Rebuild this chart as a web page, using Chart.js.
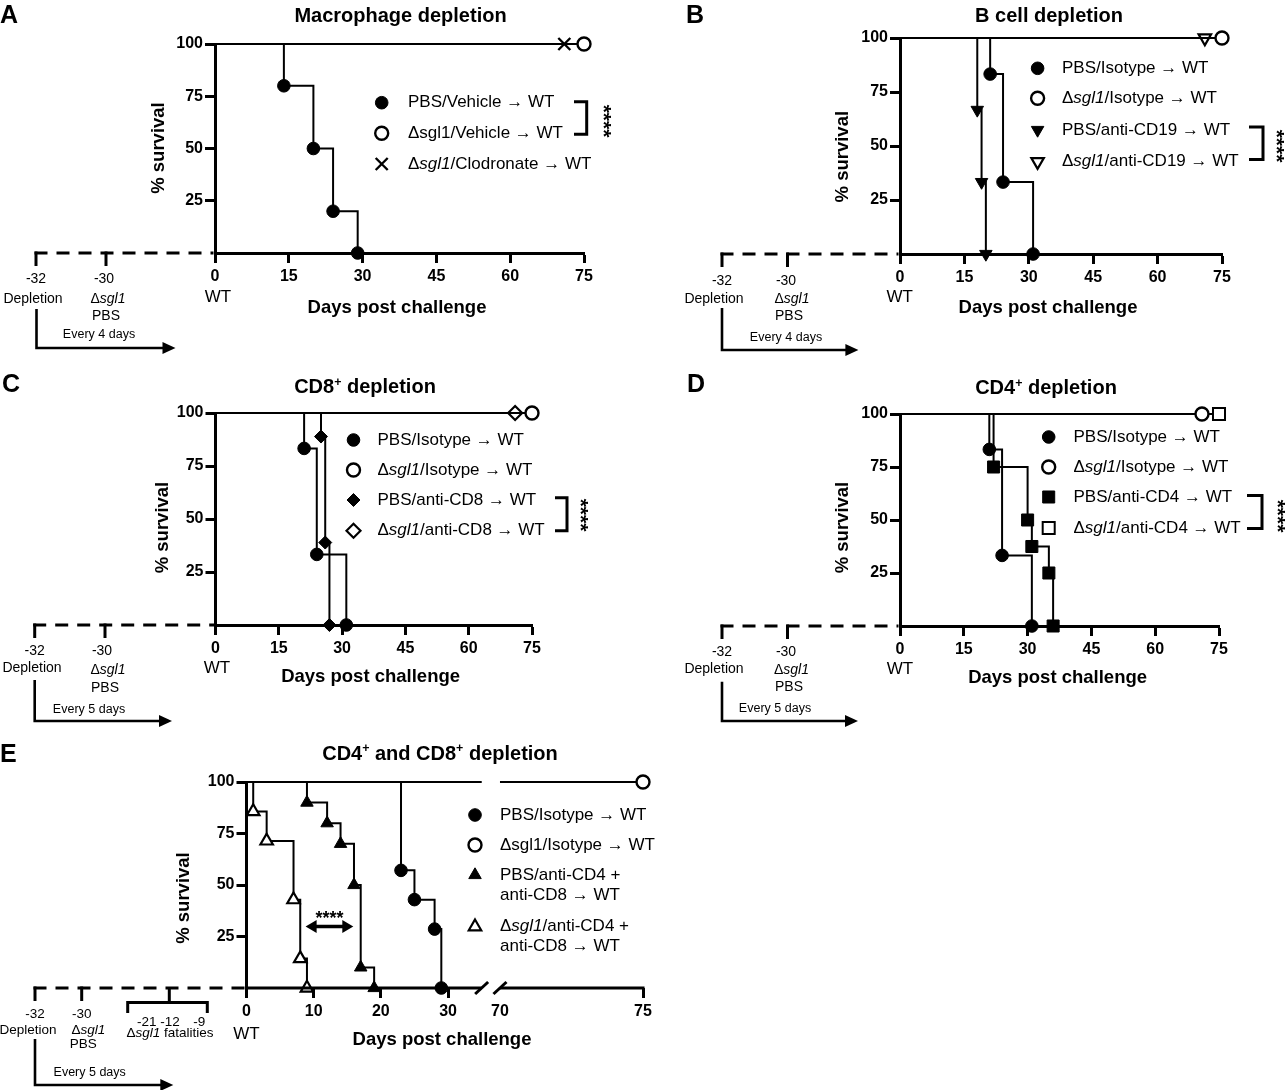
<!DOCTYPE html>
<html><head><meta charset="utf-8">
<script src="https://cdn.jsdelivr.net/npm/chart.js@4/dist/chart.umd.min.js"></script>
<style>
html,body{margin:0;padding:0;background:#fff;}
#wrap{position:relative;width:1286px;height:1090px;overflow:hidden;background:#fff;}
#wrap canvas{position:absolute;left:0;top:0;}
</style></head><body>
<div id="wrap">
<canvas id="cA" width="1286" height="1090"></canvas>
<canvas id="cB" width="1286" height="1090"></canvas>
<canvas id="cC" width="1286" height="1090"></canvas>
<canvas id="cD" width="1286" height="1090"></canvas>
<canvas id="cE" width="1286" height="1090"></canvas>
</div>
<script>
// ================= DATA =================
const xTicksMain = [0, 15, 30, 45, 60, 75];
const xTicksE = [0, 10, 20, 30, 70, 75];
const yTicks = [25, 50, 75, 100];
const xAxisTitle = 'Days post challenge';
const yAxisTitle = '% survival';

// Panel A - Macrophage depletion
const A_pbsVeh_days = [0, 14, 20, 24, 29];
const A_pbsVeh_surv = [100, 80, 50, 20, 0];
const A_sglVeh_days = [0, 75];
const A_sglVeh_surv = [100, 100];
const A_sglClod_days = [0, 71];
const A_sglClod_surv = [100, 100];

// Panel B - B cell depletion
const B_pbsIso_days = [0, 21, 24, 31];
const B_pbsIso_surv = [100, 83.3, 33.3, 0];
const B_sglIso_days = [0, 75];
const B_sglIso_surv = [100, 100];
const B_pbsCD19_days = [0, 18, 19, 20];
const B_pbsCD19_surv = [100, 66.7, 33.3, 0];
const B_sglCD19_days = [0, 71];
const B_sglCD19_surv = [100, 100];

// Panel C - CD8+ depletion
const C_pbsIso_days = [0, 21, 24, 31];
const C_pbsIso_surv = [100, 83.3, 33.3, 0];
const C_sglIso_days = [0, 75];
const C_sglIso_surv = [100, 100];
const C_pbsCD8_days = [0, 25, 26, 27];
const C_pbsCD8_surv = [100, 88.9, 38.9, 0];
const C_sglCD8_days = [0, 71];
const C_sglCD8_surv = [100, 100];

// Panel D - CD4+ depletion
const D_pbsIso_days = [0, 21, 24, 31];
const D_pbsIso_surv = [100, 83.3, 33.3, 0];
const D_sglIso_days = [0, 71];
const D_sglIso_surv = [100, 100];
const D_pbsCD4_days = [0, 22, 30, 31, 35, 36];
const D_pbsCD4_surv = [100, 75, 50, 37.5, 25, 0];
const D_sglCD4_days = [0, 75];
const D_sglCD4_surv = [100, 100];

// Panel E - CD4+ and CD8+ depletion
const E_pbsIso_days = [0, 23, 25, 28, 29];
const E_pbsIso_surv = [100, 57.1, 42.9, 28.6, 0];
const E_sglIso_days = [0, 75];
const E_sglIso_surv = [100, 100];
const E_pbsCD_days = [0, 9, 12, 14, 16, 17, 19];
const E_pbsCD_surv = [100, 90, 80, 70, 50, 10, 0];
const E_sglCD_days = [0, 1, 3, 7, 8, 9];
const E_sglCD_surv = [100, 85.7, 71.4, 42.9, 14.3, 0];
const E_axisBreak = [35, 70];

// Timeline (schematic) labels
const tlDays = ['-32', '-30'];
const tlEventsMain = ['Depletion', 'Δ_sgl1_', 'PBS'];
const tlFatalDays = ['-21', '-12', '-9'];
const tlFatalLabel = 'Δ_sgl1_ fatalities';

// ================= STYLES =================
const FONT = '"Liberation Sans", Arial, Helvetica, sans-serif';
const MK = {
  fc:  {style:'circle', r:6.3, bg:'#000', bw:1},
  oc:  {style:'circle', r:6.5, bg:'#fff', bw:2.4},
  x:   {style:'crossRot', r:8.5, bg:'#000', bw:2.4},
  ftd: {style:'triangle', rot:180, r:7.2, bg:'#000', bw:1},
  otd: {style:'triangle', rot:180, r:7.2, bg:'#fff', bw:2.2},
  fd:  {style:'rectRot', r:6.5, bg:'#000', bw:1},
  od:  {style:'rectRot', r:7, bg:'#fff', bw:2.2},
  fs:  {style:'rect', r:8.5, bg:'#000', bw:1},
  os:  {style:'rect', r:8.5, bg:'#fff', bw:2},
  ftu: {style:'triangle', r:7.2, bg:'#000', bw:1},
  otu: {style:'triangle', r:7.2, bg:'#fff', bw:2.2}
};

const panels = [
  { canvas:'cA', letter:'A', title:'Macrophage depletion', xTicks:xTicksMain, broken:false,
    series:[
      {label:'PBS/Vehicle → WT', days:A_pbsVeh_days, surv:A_pbsVeh_surv, mk:'fc'},
      {label:'Δsgl1/Vehicle → WT', days:A_sglVeh_days, surv:A_sglVeh_surv, mk:'oc'},
      {label:'Δ_sgl1_/Clodronate → WT', days:A_sglClod_days, surv:A_sglClod_surv, mk:'x'}],
    every:'Every 4 days',
    L:{x0:215, x75:584, y100:44, y0:253,
       letter:[0,23], title:[400.5,21.5], xTitle:[397,313], yTitle:[159,148], wt:[218,301.5],
       legend:{mx:381.7, tx:408, rows:[[102.7],[133.3],[164]]},
       bracket:{x:586.7, y1:101.7, y2:134.3, arm:12.7}, stars:[606.7,121],
       tl:{xs:[36,106], dayLab:[[36,282.5],[104,282.5]], evLab:[[33,303],[108,302.5],[106,319.5]],
           every:[99,337.5], arrow:{x:36.5,y1:309,y2:348,x2:175.5}, fs:14}}},
  { canvas:'cB', letter:'B', title:'B cell depletion', xTicks:xTicksMain, broken:false,
    series:[
      {label:'PBS/Isotype → WT', days:B_pbsIso_days, surv:B_pbsIso_surv, mk:'fc'},
      {label:'Δ_sgl1_/Isotype → WT', days:B_sglIso_days, surv:B_sglIso_surv, mk:'oc'},
      {label:'PBS/anti-CD19 → WT', days:B_pbsCD19_days, surv:B_pbsCD19_surv, mk:'ftd'},
      {label:'Δ_sgl1_/anti-CD19 → WT', days:B_sglCD19_days, surv:B_sglCD19_surv, mk:'otd'}],
    every:'Every 4 days',
    L:{x0:900, x75:1222, y100:38, y0:254,
       letter:[686,23], title:[1049,21.5], xTitle:[1048,313], yTitle:[843,156.7], wt:[899.6,301.7],
       legend:{mx:1037.6, tx:1062, rows:[[68.3],[98.3],[130],[161.7]]},
       bracket:{x:1263, y1:127, y2:159.5, arm:14}, stars:[1280,146],
       tl:{xs:[722,787.5], dayLab:[[722,285],[786,285]], evLab:[[714,302.5],[792,303],[789,320]],
           every:[786,340.5], arrow:{x:722,y1:308,y2:350,x2:858.4}, fs:14}}},
  { canvas:'cC', letter:'C', title:'CD8^+^ depletion', xTicks:xTicksMain, broken:false,
    series:[
      {label:'PBS/Isotype → WT', days:C_pbsIso_days, surv:C_pbsIso_surv, mk:'fc'},
      {label:'Δ_sgl1_/Isotype → WT', days:C_sglIso_days, surv:C_sglIso_surv, mk:'oc'},
      {label:'PBS/anti-CD8 → WT', days:C_pbsCD8_days, surv:C_pbsCD8_surv, mk:'fd'},
      {label:'Δ_sgl1_/anti-CD8 → WT', days:C_sglCD8_days, surv:C_sglCD8_surv, mk:'od'}],
    every:'Every 5 days',
    L:{x0:215.5, x75:532, y100:413, y0:625,
       letter:[2,392], title:[365,393], xTitle:[370.6,682], yTitle:[163,527.5], wt:[217,672.7],
       legend:{mx:353.5, tx:377.5, rows:[[440],[470],[500],[530.7]]},
       bracket:{x:567, y1:497.7, y2:530.7, arm:12}, stars:[583.7,515],
       tl:{xs:[34.7,105], dayLab:[[34.7,655],[102,655]], evLab:[[32,672.3],[108,674.3],[105,691.7]],
           every:[89,712.7], arrow:{x:34.7,y1:680,y2:721,x2:172}, fs:14}}},
  { canvas:'cD', letter:'D', title:'CD4^+^ depletion', xTicks:xTicksMain, broken:false,
    series:[
      {label:'PBS/Isotype → WT', days:D_pbsIso_days, surv:D_pbsIso_surv, mk:'fc'},
      {label:'Δ_sgl1_/Isotype → WT', days:D_sglIso_days, surv:D_sglIso_surv, mk:'oc'},
      {label:'PBS/anti-CD4 → WT', days:D_pbsCD4_days, surv:D_pbsCD4_surv, mk:'fs'},
      {label:'Δ_sgl1_/anti-CD4 → WT', days:D_sglCD4_days, surv:D_sglCD4_surv, mk:'os'}],
    every:'Every 5 days',
    L:{x0:900, x75:1219, y100:414, y0:626,
       letter:[687,392], title:[1046,394], xTitle:[1057.6,683], yTitle:[843,527.5], wt:[900,674],
       legend:{mx:1048.7, tx:1073.5, rows:[[437],[467],[497],[528]]},
       bracket:{x:1262, y1:495.5, y2:528.5, arm:15}, stars:[1280.5,516],
       tl:{xs:[722,787.5], dayLab:[[722,656],[786,656]], evLab:[[714,673.3],[791.5,674.3],[789,691]],
           every:[775,712.3], arrow:{x:722,y1:681.7,y2:721,x2:858}, fs:14}}},
  { canvas:'cE', letter:'E', title:'CD4^+^ and CD8^+^ depletion', xTicks:xTicksE, broken:true,
    series:[
      {label:'PBS/Isotype → WT', days:E_pbsIso_days, surv:E_pbsIso_surv, mk:'fc'},
      {label:'Δsgl1/Isotype → WT', days:E_sglIso_days, surv:E_sglIso_surv, mk:'oc'},
      {label:'PBS/anti-CD4 +\nanti-CD8 → WT', days:E_pbsCD_days, surv:E_pbsCD_surv, mk:'ftu'},
      {label:'Δ_sgl1_/anti-CD4 +\nanti-CD8 → WT', days:E_sglCD_days, surv:E_sglCD_surv, mk:'otu'}],
    every:'Every 5 days',
    L:{x0:246.5, x75:643, y100:782, y0:988,
       letter:[0,762], title:[440,759.5], xTitle:[442,1045], yTitle:[184,898], wt:[246.5,1039],
       legend:{mx:475, tx:500, rows:[[815],[845],[875,895],[926.7,946.7]]},
       dbl:{d1:8.8, d2:15.9, s:29.8, starsY:924},
       tl:{xs:[35,81.7], dayLab:[[35,1017.5],[81.7,1017.5]], evLab:[[28,1034],[88.3,1034],[83.3,1048]],
           fatal:{x1:127.7, x2:207.3, xc:169.3, y:1002.5, yEnd:1013, labs:[[146.7,1026],[170,1026],[199.3,1026]], lab:[170,1037]},
           every:[89.7,1076], arrow:{x:35,y1:1039,y2:1085,x2:173.3}, fs:13.5}}}
];

// ================= HELPERS =================
function fnt(size, weight, style) {
  return (style || 'normal') + ' ' + (weight || 'normal') + ' ' + size + 'px ' + FONT;
}
function parseRich(str) {
  const segs = []; let cur = '', it = false, sup = false;
  for (const ch of str) {
    if (ch === '_' || ch === '^') {
      if (cur) segs.push({t:cur, it, sup});
      cur = '';
      if (ch === '_') it = !it; else sup = !sup;
    } else cur += ch;
  }
  if (cur) segs.push({t:cur, it, sup});
  return segs;
}
function rich(ctx, str, x, y, size, weight, align, baseline) {
  const segs = parseRich(str);
  let total = 0;
  segs.forEach(s => {
    ctx.font = fnt(s.sup ? size * 0.62 : size, weight, s.it ? 'italic' : 'normal');
    s.w = ctx.measureText(s.t).width; total += s.w;
  });
  let cx = align === 'center' ? x - total / 2 : (align === 'right' ? x - total : x);
  ctx.textAlign = 'left';
  ctx.textBaseline = baseline || 'alphabetic';
  segs.forEach(s => {
    ctx.font = fnt(s.sup ? size * 0.62 : size, weight, s.it ? 'italic' : 'normal');
    ctx.fillText(s.t, cx, s.sup ? y - size * 0.36 : y);
    cx += s.w;
  });
}
function drawMarker(ctx, mk, x, y) {
  ctx.save();
  ctx.fillStyle = mk.bg; ctx.strokeStyle = '#000'; ctx.lineWidth = mk.bw;
  if (Chart.helpers && Chart.helpers.drawPoint) {
    Chart.helpers.drawPoint(ctx, {pointStyle: mk.style, rotation: mk.rot || 0, radius: mk.r, borderWidth: mk.bw}, x, y);
  } else {
    ctx.beginPath(); ctx.arc(x, y, mk.r, 0, Math.PI * 2); ctx.fill(); ctx.stroke();
  }
  ctx.restore();
}
function line(ctx, pts, w) {
  ctx.lineWidth = w; ctx.beginPath();
  pts.forEach((p, i) => i ? ctx.lineTo(p[0], p[1]) : ctx.moveTo(p[0], p[1]));
  ctx.stroke();
}
function arrowHead(ctx, x, y, dir, len, half) {
  ctx.beginPath();
  ctx.moveTo(x, y); ctx.lineTo(x - dir * len, y - half); ctx.lineTo(x - dir * len, y + half);
  ctx.closePath(); ctx.fill();
}

// ================= BROKEN AXIS SCALE (panel E) =================
const E_SEG_FRAC = [0.593, 0.6393];
class BrokenLinearScale extends Chart.LinearScale {
  getPixelForValue(v) {
    if (v === null || v === undefined || isNaN(v)) return NaN;
    const b1 = E_axisBreak[0], b2 = E_axisBreak[1], f1 = E_SEG_FRAC[0], f2 = E_SEG_FRAC[1];
    const mn = this.min, mx = this.max;
    let f;
    if (v <= b1) f = (v - mn) / (b1 - mn) * f1;
    else if (v >= b2) f = f2 + (v - b2) / (mx - b2) * (1 - f2);
    else f = f1 + (v - b1) / (b2 - b1) * (f2 - f1);
    return this.getPixelForDecimal(f);
  }
  getValueForPixel(p) {
    const f = this.getDecimalForPixel(p);
    const b1 = E_axisBreak[0], b2 = E_axisBreak[1], f1 = E_SEG_FRAC[0], f2 = E_SEG_FRAC[1];
    const mn = this.min, mx = this.max;
    if (f <= f1) return mn + f / f1 * (b1 - mn);
    if (f >= f2) return b2 + (f - f2) / (1 - f2) * (mx - b2);
    return b1 + (f - f1) / (f2 - f1) * (b2 - b1);
  }
}
BrokenLinearScale.id = 'brokenLinear';
BrokenLinearScale.defaults = Chart.LinearScale.defaults;
Chart.register(BrokenLinearScale);

// ================= DECORATION =================
function drawDecor(chart, P) {
  const L = P.L, ctx = chart.ctx, ca = chart.chartArea;
  const xs = chart.scales.x, ys = chart.scales.y;
  ctx.save();
  ctx.fillStyle = '#000'; ctx.strokeStyle = '#000'; ctx.lineCap = 'butt';

  rich(ctx, P.letter, L.letter[0], L.letter[1], 25, 'bold', 'left');
  rich(ctx, P.title, L.title[0], L.title[1], 20, 'bold', 'center');
  rich(ctx, xAxisTitle, L.xTitle[0], L.xTitle[1], 18.5, 'bold', 'center');
  ctx.save(); ctx.translate(L.yTitle[0], L.yTitle[1]); ctx.rotate(-Math.PI / 2);
  rich(ctx, yAxisTitle, 0, 0, 18.5, 'bold', 'center', 'middle'); ctx.restore();
  rich(ctx, 'WT', L.wt[0], L.wt[1], 17, 'normal', 'center');

  // legend
  P.series.forEach((s, i) => {
    const rows = L.legend.rows[i];
    drawMarker(ctx, MK[s.mk], L.legend.mx, rows[0]);
    s.label.split('\n').forEach((ln, j) => rich(ctx, ln, L.legend.tx, rows[j], 17, 'normal', 'left', 'middle'));
  });

  // significance bracket
  if (L.bracket) {
    const b = L.bracket;
    line(ctx, [[b.x - b.arm, b.y1], [b.x, b.y1], [b.x, b.y2], [b.x - b.arm, b.y2]], 3);
    ctx.save(); ctx.translate(L.stars[0], L.stars[1]); ctx.rotate(Math.PI / 2);
    ctx.font = fnt(21, 'bold'); ctx.textAlign = 'center'; ctx.textBaseline = 'alphabetic';
    const m = ctx.measureText('****');
    const off = ((m.actualBoundingBoxAscent || 15) - (m.actualBoundingBoxDescent || 0)) / 2;
    ctx.fillText('****', 0, off); ctx.restore();
  }
  if (L.dbl) {
    const x1 = xs.getPixelForValue(L.dbl.d1), x2 = xs.getPixelForValue(L.dbl.d2), y = ys.getPixelForValue(L.dbl.s);
    line(ctx, [[x1 + 8, y], [x2 - 8, y]], 3.5);
    arrowHead(ctx, x1, y, -1, 11, 6.5); arrowHead(ctx, x2, y, 1, 11, 6.5);
    ctx.font = fnt(18, 'bold'); ctx.textAlign = 'center'; ctx.textBaseline = 'alphabetic';
    ctx.fillText('****', (x1 + x2) / 2, L.dbl.starsY);
  }

  // broken x axis
  if (P.broken) {
    const y0 = ca.bottom;
    const pA = xs.getPixelForValue(0), pB = xs.getPixelForValue(E_axisBreak[0]);
    const pC = xs.getPixelForValue(E_axisBreak[1]), pD = xs.getPixelForValue(75);
    line(ctx, [[pA - 1.5, y0], [pB, y0]], 3);
    line(ctx, [[pC, y0], [pD + 1.5, y0]], 3);
    line(ctx, [[pB - 6.5, y0 + 6], [pB + 6.5, y0 - 6]], 3);
    line(ctx, [[pC - 6.5, y0 + 6], [pC + 6.5, y0 - 6]], 3);
  }

  // timeline schematic
  const T = L.tl, y0 = ca.bottom;
  ctx.save(); ctx.setLineDash([13, 9]);
  line(ctx, [[T.xs[0] - 1.5, y0], [ca.left - 1.5, y0]], 3);
  ctx.restore();
  T.xs.forEach(x => line(ctx, [[x, y0 - 1.5], [x, y0 + 13]], 3));
  tlDays.forEach((t, i) => rich(ctx, t, T.dayLab[i][0], T.dayLab[i][1], T.fs, 'normal', 'center'));
  tlEventsMain.forEach((t, i) => rich(ctx, t, T.evLab[i][0], T.evLab[i][1], T.fs, 'normal', 'center'));
  if (T.fatal) {
    const F = T.fatal;
    line(ctx, [[F.xc, y0], [F.xc, F.y]], 3);
    line(ctx, [[F.x1, F.yEnd], [F.x1, F.y], [F.x2, F.y], [F.x2, F.yEnd]], 3);
    tlFatalDays.forEach((t, i) => rich(ctx, t, F.labs[i][0], F.labs[i][1], T.fs, 'normal', 'center'));
    rich(ctx, tlFatalLabel, F.lab[0], F.lab[1], T.fs, 'normal', 'center');
  }
  rich(ctx, P.every, T.every[0], T.every[1], 12.5, 'normal', 'center');
  const a = T.arrow;
  line(ctx, [[a.x, a.y1], [a.x, a.y2], [a.x2 - 10, a.y2]], 2.6);
  arrowHead(ctx, a.x2, a.y2, 1, 13, 6);
  ctx.restore();
}

// ================= BUILD CHARTS =================
function buildDatasets(P) {
  return P.series.map(s => {
    const mk = MK[s.mk];
    let pts = s.days.map((d, i) => ({x: d, y: s.surv[i]}));
    let rad = pts.map((p, i) => (i === 0 ? 0 : mk.r));
    if (P.broken) {
      const np = [], nr = [];
      pts.forEach((p, i) => {
        if (i > 0 && pts[i - 1].x < E_axisBreak[0] && p.x > E_axisBreak[1]) {
          const yv = pts[i - 1].y;
          np.push({x: E_axisBreak[0] + 0.2, y: yv}); nr.push(0);
          np.push({x: (E_axisBreak[0] + E_axisBreak[1]) / 2, y: null}); nr.push(0);
          np.push({x: E_axisBreak[1], y: yv}); nr.push(0);
        }
        np.push(p); nr.push(rad[i]);
      });
      pts = np; rad = nr;
    }
    return {
      data: pts, stepped: 'before', borderColor: '#000', borderWidth: 2, fill: false,
      pointStyle: mk.style, pointRotation: mk.rot || 0, pointRadius: rad, pointHoverRadius: rad,
      pointBackgroundColor: mk.bg, pointBorderColor: '#000', pointBorderWidth: mk.bw,
      clip: false, spanGaps: false, tension: 0
    };
  });
}

const YW = 60, XH = 40;
panels.forEach(P => {
  const L = P.L;
  const tickFont = {family: FONT, size: 16, weight: 'bold'};
  new Chart(document.getElementById(P.canvas), {
    type: 'line',
    data: {datasets: buildDatasets(P)},
    options: {
      responsive: false, animation: false, events: [],
      layout: {padding: {left: L.x0 - YW, right: 1286 - L.x75, top: L.y100, bottom: 1090 - L.y0 - XH}},
      plugins: {legend: {display: false}, tooltip: {enabled: false}, title: {display: false}},
      scales: {
        x: {
          type: P.broken ? 'brokenLinear' : 'linear', min: 0, max: 75,
          afterBuildTicks: s => { s.ticks = P.xTicks.map(v => ({value: v})); },
          afterFit: s => { s.height = XH; },
          grid: {drawOnChartArea: false, drawTicks: true, tickLength: 10, tickWidth: 3,
                 color: c => (P.broken && c.tick && c.tick.value === E_axisBreak[1]) ? 'rgba(0,0,0,0)' : '#000'},
          border: {display: !P.broken, width: 3, color: '#000'},
          ticks: {font: tickFont, color: '#000', padding: 4, maxRotation: 0, autoSkip: false, callback: v => String(v)}
        },
        y: {
          type: 'linear', min: 0, max: 100,
          afterBuildTicks: s => { s.ticks = yTicks.map(v => ({value: v})); },
          afterFit: s => { s.width = YW; },
          grid: {drawOnChartArea: false, drawTicks: true, tickLength: 10, tickWidth: 3, color: '#000'},
          border: {display: true, width: 3, color: '#000'},
          ticks: {font: tickFont, color: '#000', padding: 2, autoSkip: false, callback: v => String(v)}
        }
      }
    },
    plugins: [{id: 'decor' + P.letter, afterDraw: chart => drawDecor(chart, P)}]
  });
});
</script>
</body></html>
